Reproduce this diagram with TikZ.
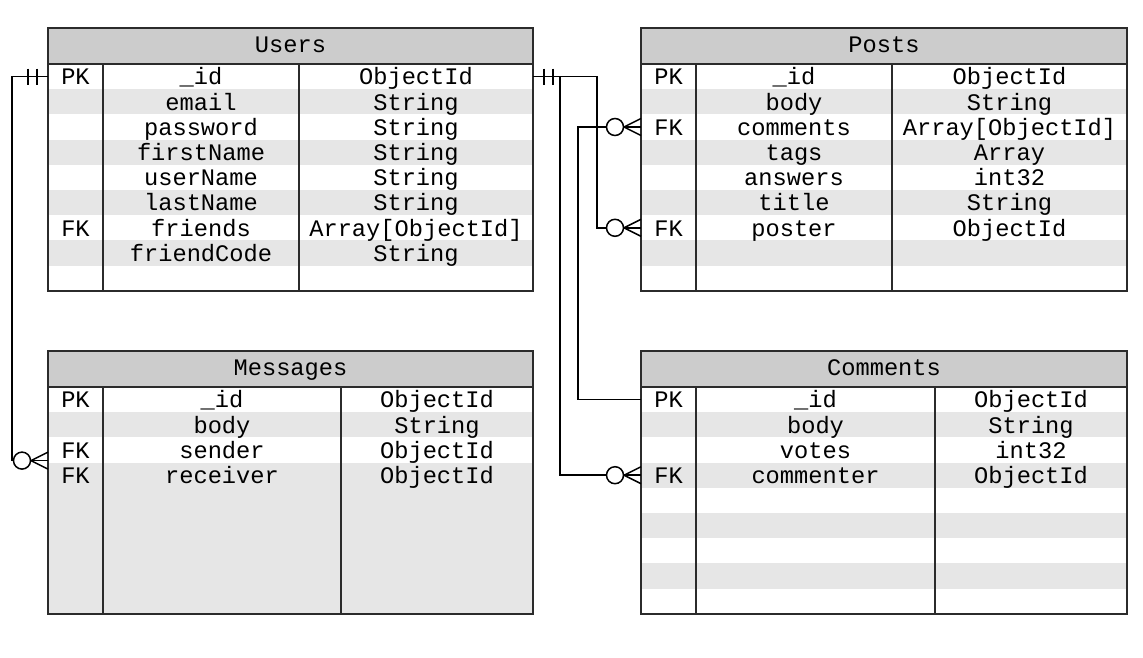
\documentclass[tikz,border=0pt]{standalone}
\usepackage{fontspec}
\setmainfont{Liberation Mono}
\definecolor{hdrgray}{HTML}{CCCCCC}
\definecolor{stripe}{HTML}{E6E6E6}
\definecolor{edge}{HTML}{2B2B2B}
\tikzset{
  hdrbox/.style={draw=none, fill=hdrgray, anchor=north west, inner sep=0pt, outer sep=0pt, minimum height=36pt},
  rowbox/.style={draw=none, anchor=north west, inner sep=0pt, outer sep=0pt, minimum height=25.2pt},
  cell/.style={anchor=base, inner sep=0pt, font=\fontsize{23.7}{28}\selectfont, text=black},
  border/.style={draw=edge, line width=1.7pt},
  conn/.style={draw=black, line width=1.5pt},
}
% #1 name #2 x0 #3 x1 #4 c1 #5 c2 #6 top #7 bottom #8 title #9 rows
\newcommand\ertable[9]{%
  \pgfmathsetmacro\tw{#3-#2}%
  \pgfmathsetmacro\xa{(#2+#4)/2}%
  \pgfmathsetmacro\xb{(#4+#5)/2}%
  \pgfmathsetmacro\xc{(#5+#3)/2}%
  \pgfmathsetmacro\xm{(#2+#3)/2}%
  \node[hdrbox, minimum width=\tw pt] (#1) at (#2,#6) {};
  \node[cell] (#1-title) at (\xm,{#6+24.5}) {#8};
  \foreach \c/\k/\f/\t [count=\i] in {#9} {
    \node[rowbox, fill=\c, minimum width=\tw pt] (#1-r\i) at (#2,{#6+36+(\i-1)*25.2}) {};
  }
  \foreach \c/\k/\f/\t [count=\i] in {#9} {
    \node[cell] (#1-k\i) at (\xa,{#6+36+(\i-0.5)*25.2+8.3}) {\k};
    \node[cell] (#1-f\i) at (\xb,{#6+36+(\i-0.5)*25.2+8.3}) {\f};
    \node[cell] (#1-t\i) at (\xc,{#6+36+(\i-0.5)*25.2+8.3}) {\t};
  }
  \draw[border] (#2,{#6+36}) -- (#3,{#6+36});
  \draw[border] (#4,{#6+36}) -- (#4,#7);
  \draw[border] (#5,{#6+36}) -- (#5,#7);
  \draw[border] (#2,#6) rectangle (#3,#7);
}
\newcommand\zeromany[1]{%
  \draw[conn] ([xshift=-17pt]#1) -- ([yshift=8.5pt]#1);
  \draw[conn] ([xshift=-17pt]#1) -- ([yshift=-8.5pt]#1);
  \draw[conn, fill=white] ([xshift=-26pt]#1) circle[radius=8.5pt];
}
\newcommand\onebars[2]{%
  \foreach \d in {11,20} {
    \draw[conn] ([xshift={#2*\d*1pt}, yshift=8pt]#1) -- ([xshift={#2*\d*1pt}, yshift=-8pt]#1);
  }
}
\begin{document}
\begin{tikzpicture}[x=1pt, y=-1pt]
  \useasboundingbox (0,0) rectangle (1143,657);
  \fill[white] (0,0) rectangle (1143,657);

  \ertable{users}{48}{533}{103}{299}{28}{291}{Users}{%
    white/PK/\_id/ObjectId,
    stripe/{}/email/String,
    white/{}/password/String,
    stripe/{}/firstName/String,
    white/{}/userName/String,
    stripe/{}/lastName/String,
    white/FK/friends/Array[ObjectId],
    stripe/{}/friendCode/String,
    white/{}/{}/{}}

  \ertable{posts}{641}{1127}{696}{892}{28}{291}{Posts}{%
    white/PK/\_id/ObjectId,
    stripe/{}/body/String,
    white/FK/comments/Array[ObjectId],
    stripe/{}/tags/Array,
    white/{}/answers/int32,
    stripe/{}/title/String,
    white/FK/poster/ObjectId,
    stripe/{}/{}/{},
    white/{}/{}/{}}

  \fill[stripe] (48,{387+3*25.2}) rectangle (533,614);
  \ertable{msg}{48}{533}{103}{341}{351}{614}{Messages}{%
    white/PK/\_id/ObjectId,
    stripe/{}/body/String,
    white/FK/sender/ObjectId,
    stripe/FK/receiver/ObjectId}

  \ertable{cmt}{641}{1127}{696}{935}{351}{614}{Comments}{%
    white/PK/\_id/ObjectId,
    stripe/{}/body/String,
    white/{}/votes/int32,
    stripe/FK/commenter/ObjectId,
    white/{}/{}/{},
    stripe/{}/{}/{},
    white/{}/{}/{},
    stripe/{}/{}/{},
    white/{}/{}/{}}

  \coordinate (msgfk) at ([yshift=2pt]msg-r3.south west);

  % Users._id -> Messages.sender
  \draw[conn] (users-r1.west) -- ++(-36,0) |- (msgfk);
  % Users._id -> Posts.poster
  \draw[conn] (users-r1.east) -- ++(64,0) |- (posts-r7.west);
  % Users._id -> Comments.commenter
  \draw[conn] (users-r1.east) -- ++(27,0) |- (cmt-r4.west);
  % Comments._id -> Posts.comments
  \draw[conn] (cmt-r1.west) -- ++(-63,0) |- (posts-r3.west);

  \onebars{users-r1.west}{-1}
  \onebars{users-r1.east}{1}
  \zeromany{msgfk}
  \zeromany{posts-r7.west}
  \zeromany{posts-r3.west}
  \zeromany{cmt-r4.west}
\end{tikzpicture}
\end{document}
